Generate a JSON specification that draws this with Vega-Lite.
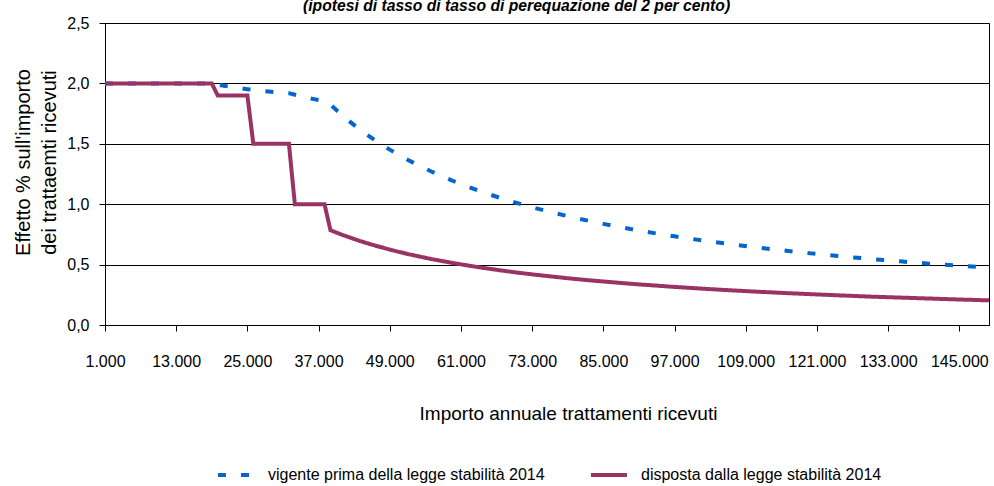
{
  "$schema": "https://vega.github.io/schema/vega-lite/v6.json",
  "autosize": "none",
  "width": 884,
  "height": 302,
  "padding": {"left": 105, "top": 23, "right": 5, "bottom": 161},
  "background": "white",
  "title": {
    "text": "(ipotesi di tasso di tasso di perequazione del 2 per cento)",
    "anchor": "start",
    "frame": "group",
    "dx": 198,
    "dy": 15,
    "offset": 3,
    "baseline": "alphabetic",
    "font": "Liberation Sans",
    "fontSize": 15.7,
    "fontStyle": "italic",
    "fontWeight": "bold",
    "color": "black"
  },
  "data": {
    "values": [
      {"importo": 1000, "vigente": 2.0, "disposta": 2.0},
      {"importo": 5000, "vigente": 2.0, "disposta": 2.0},
      {"importo": 10000, "vigente": 2.0, "disposta": 2.0},
      {"importo": 15000, "vigente": 2.0, "disposta": 2.0},
      {"importo": 19000, "vigente": 2.0, "disposta": 2.0},
      {"importo": 20000, "vigente": 1.99, "disposta": 1.9},
      {"importo": 21000, "vigente": 1.981, "disposta": 1.9},
      {"importo": 22000, "vigente": 1.973, "disposta": 1.9},
      {"importo": 23000, "vigente": 1.965, "disposta": 1.9},
      {"importo": 24000, "vigente": 1.958, "disposta": 1.9},
      {"importo": 25000, "vigente": 1.952, "disposta": 1.9},
      {"importo": 26000, "vigente": 1.946, "disposta": 1.5},
      {"importo": 27000, "vigente": 1.941, "disposta": 1.5},
      {"importo": 28000, "vigente": 1.936, "disposta": 1.5},
      {"importo": 29000, "vigente": 1.931, "disposta": 1.5},
      {"importo": 30000, "vigente": 1.927, "disposta": 1.5},
      {"importo": 31000, "vigente": 1.923, "disposta": 1.5},
      {"importo": 32000, "vigente": 1.919, "disposta": 1.5},
      {"importo": 33000, "vigente": 1.906, "disposta": 1.0},
      {"importo": 34000, "vigente": 1.894, "disposta": 1.0},
      {"importo": 35000, "vigente": 1.883, "disposta": 1.0},
      {"importo": 36000, "vigente": 1.872, "disposta": 1.0},
      {"importo": 37000, "vigente": 1.862, "disposta": 1.0},
      {"importo": 38000, "vigente": 1.853, "disposta": 1.0},
      {"importo": 39000, "vigente": 1.824, "disposta": 0.785},
      {"importo": 40000, "vigente": 1.779, "disposta": 0.765},
      {"importo": 41000, "vigente": 1.735, "disposta": 0.746},
      {"importo": 42000, "vigente": 1.694, "disposta": 0.729},
      {"importo": 43000, "vigente": 1.655, "disposta": 0.712},
      {"importo": 44000, "vigente": 1.617, "disposta": 0.695},
      {"importo": 45000, "vigente": 1.581, "disposta": 0.68},
      {"importo": 46000, "vigente": 1.547, "disposta": 0.665},
      {"importo": 47000, "vigente": 1.514, "disposta": 0.651},
      {"importo": 48000, "vigente": 1.482, "disposta": 0.638},
      {"importo": 49000, "vigente": 1.452, "disposta": 0.624},
      {"importo": 50000, "vigente": 1.423, "disposta": 0.612},
      {"importo": 52000, "vigente": 1.368, "disposta": 0.588},
      {"importo": 54000, "vigente": 1.318, "disposta": 0.567},
      {"importo": 56000, "vigente": 1.271, "disposta": 0.546},
      {"importo": 58000, "vigente": 1.227, "disposta": 0.528},
      {"importo": 60000, "vigente": 1.186, "disposta": 0.51},
      {"importo": 62000, "vigente": 1.148, "disposta": 0.494},
      {"importo": 64000, "vigente": 1.112, "disposta": 0.478},
      {"importo": 66000, "vigente": 1.078, "disposta": 0.464},
      {"importo": 68000, "vigente": 1.046, "disposta": 0.45},
      {"importo": 70000, "vigente": 1.016, "disposta": 0.437},
      {"importo": 73000, "vigente": 0.975, "disposta": 0.419},
      {"importo": 76000, "vigente": 0.936, "disposta": 0.403},
      {"importo": 79000, "vigente": 0.901, "disposta": 0.387},
      {"importo": 82000, "vigente": 0.868, "disposta": 0.373},
      {"importo": 85000, "vigente": 0.837, "disposta": 0.36},
      {"importo": 88000, "vigente": 0.809, "disposta": 0.348},
      {"importo": 91000, "vigente": 0.782, "disposta": 0.336},
      {"importo": 94000, "vigente": 0.757, "disposta": 0.326},
      {"importo": 97000, "vigente": 0.734, "disposta": 0.315},
      {"importo": 100000, "vigente": 0.712, "disposta": 0.306},
      {"importo": 105000, "vigente": 0.678, "disposta": 0.291},
      {"importo": 110000, "vigente": 0.647, "disposta": 0.278},
      {"importo": 115000, "vigente": 0.619, "disposta": 0.266},
      {"importo": 120000, "vigente": 0.593, "disposta": 0.255},
      {"importo": 125000, "vigente": 0.569, "disposta": 0.245},
      {"importo": 130000, "vigente": 0.547, "disposta": 0.235},
      {"importo": 135000, "vigente": 0.527, "disposta": 0.227},
      {"importo": 140000, "vigente": 0.508, "disposta": 0.219},
      {"importo": 145000, "vigente": 0.491, "disposta": 0.211},
      {"importo": 150000, "vigente": 0.474, "disposta": 0.204}
    ]
  },
  "transform": [
    {"fold": ["vigente", "disposta"], "as": ["serie", "effetto"]}
  ],
  "mark": {"type": "line", "strokeWidth": 4, "clip": true},
  "encoding": {
    "x": {
      "field": "importo",
      "type": "quantitative",
      "scale": {"domain": [1000, 150000], "nice": false, "zero": false},
      "axis": {
        "values": [1000, 13000, 25000, 37000, 49000, 61000, 73000, 85000, 97000, 109000, 121000, 133000, 145000],
        "labelExpr": "replace(format(datum.value, ',d'), ',', '.')",
        "labelFlush": false,
        "labelOverlap": false,
        "grid": false,
        "title": "Importo annuale trattamenti ricevuti",
        "titleFontSize": 19,
        "titleX": 463,
        "titleY": 94,
        "titleBaseline": "alphabetic",
        "titleAnchor": "middle",
        "labelPadding": 22,
        "tickSize": 6
      }
    },
    "y": {
      "field": "effetto",
      "type": "quantitative",
      "scale": {"domain": [0, 2.5], "nice": false},
      "axis": {
        "values": [0, 0.5, 1, 1.5, 2, 2.5],
        "labelExpr": "replace(format(datum.value, '.1f'), '.', ',')",
        "labelFlush": false,
        "grid": true,
        "title": ["Effetto %  sull'importo", "dei trattaemti ricevuti"],
        "titleFontSize": 20,
        "titleX": -76,
        "titleY": 139,
        "titleBaseline": "alphabetic",
        "titleLineHeight": 26,
        "titleAngle": 270,
        "titleAlign": "center",
        "labelPadding": 10,
        "tickSize": 6
      }
    },
    "color": {
      "field": "serie",
      "type": "nominal",
      "scale": {"domain": ["vigente", "disposta"], "range": ["#0066CC", "#993366"]},
      "legend": {
        "title": null,
        "orient": "none",
        "direction": "horizontal",
        "legendX": 111,
        "legendY": 432,
        "labelExpr": "datum.value == 'vigente' ? 'vigente prima della legge stabilità 2014' : 'disposta dalla legge stabilità 2014'"
      }
    },
    "strokeDash": {
      "field": "serie",
      "type": "nominal",
      "scale": {"domain": ["vigente", "disposta"], "range": [[8, 15], [1, 0]]},
      "legend": {
        "title": null,
        "orient": "none",
        "direction": "horizontal",
        "legendX": 111,
        "legendY": 432,
        "labelExpr": "datum.value == 'vigente' ? 'vigente prima della legge stabilità 2014' : 'disposta dalla legge stabilità 2014'"
      }
    }
  },
  "config": {
    "font": "Liberation Sans",
    "view": {"stroke": "black", "strokeWidth": 1},
    "axis": {
      "domainColor": "black",
      "tickColor": "black",
      "gridColor": "black",
      "gridWidth": 1,
      "labelColor": "black",
      "titleColor": "black",
      "labelFont": "Liberation Sans",
      "titleFont": "Liberation Sans",
      "labelFontSize": 16,
      "titleFontWeight": "normal"
    },
    "legend": {
      "labelFont": "Liberation Sans",
      "labelFontSize": 16,
      "labelColor": "black",
      "symbolType": "stroke",
      "symbolSize": 1296,
      "symbolStrokeWidth": 4,
      "labelOffset": 12,
      "columnPadding": 38,
      "labelLimit": 500
    }
  }
}
